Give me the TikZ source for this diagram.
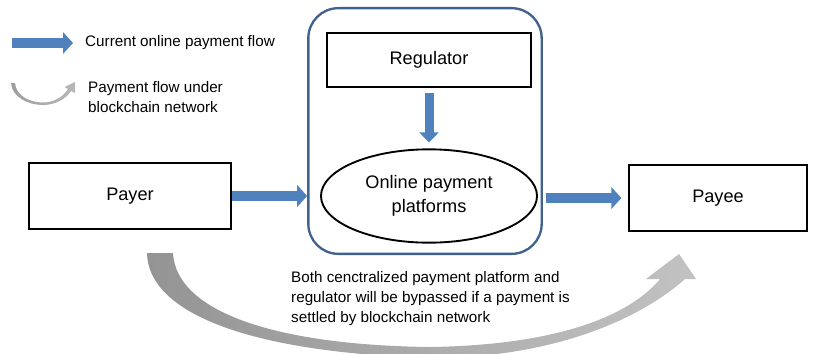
\documentclass[tikz,border=0pt]{standalone}
\usepackage{fontspec}
\setmainfont{Liberation Sans}
\usetikzlibrary{arrows.meta,shapes.geometric}
\definecolor{flowblue}{HTML}{4F81BD}
\definecolor{hubblue}{HTML}{41628F}
\tikzset{
  big/.style={font=\fontsize{15.5}{20.4}\selectfont},
  small/.style={font=\fontsize{13}{16.8}\selectfont, inner sep=0pt},
  box/.style={draw, line width=1.6pt, big},
  flow/.style={flowblue, line width=0.3cm, -{Triangle[length=0.3cm, width=0.64cm]}},
}

\begin{document}
\begin{tikzpicture}[x=0.03cm, y=-0.03cm]
\useasboundingbox (0,0) rectangle (821,353);
\clip (0,0) rectangle (821,353);

% legend
\coordinate (legstart) at (12,43);
\coordinate (legtip) at (73,43);
\draw[flow] (legstart) -- (legtip);
\node[small, anchor=west] (legflow) at (85,43) {Current online payment flow};
\shade[left color=black!38, middle color=black!8, right color=black!28]
  (11,83) .. controls (12,97) and (28,105) .. (43,105)
  .. controls (55,105) and (66,99) .. (71,91)
  -- (75,93) -- (75,82) -- (64.5,87) -- (68,89)
  .. controls (63,97) and (54,102.5) .. (43,102.5)
  .. controls (30,102.5) and (16,96) .. (15,83) -- cycle;
\node[small, anchor=west, align=left] (legchain) at (88,97) {Payment flow under\\blockchain network};

% centralized platform
\node[draw=hubblue, line width=2pt, rounded corners=0.9cm, minimum width=7cm, minimum height=7.37cm] (hub) at (425,131) {};
\node[box, minimum width=6.12cm, minimum height=1.62cm] (regulator) at (429,60) {Regulator};
\node[draw, ellipse, line width=1.6pt, big, align=center, minimum width=6.48cm, minimum height=2.8cm] (platform) at (429,196) {Online payment\\platforms};
\draw[flow, line width=0.27cm, -{Triangle[length=0.3cm, width=0.57cm]}, shorten <=0.15cm, shorten >=0.18cm] (regulator.south) -- (platform.north);

% payer and payee
\node[box, minimum width=6.06cm, minimum height=1.98cm] (payer) at (130,196) {Payer};
\node[box, minimum width=5.34cm, minimum height=1.98cm] (payee) at (718,198) {Payee};
\draw[flow] (payer.east) -- (payer.east -| hub.west);
\draw[flow, shorten <=0.08cm, shorten >=0.2cm] (hub.east |- payee.west) -- (payee.west);

% blockchain bypass
\shade[left color=black!42, right color=black!24]
  (147,253) .. controls (148,310) and (240,352) .. (430,358)
  .. controls (560,358) and (645,315) .. (685,279)
  -- (696,279) -- (679,254) -- (646,279) -- (660,279)
  .. controls (630,315) and (560,345) .. (430,347)
  .. controls (270,345) and (176,310) .. (173,253) -- cycle;
\node[small, anchor=west, align=left] (bypass) at (291,298.5) {Both cenctralized payment platform and\\regulator will be bypassed if a payment is\\settled by blockchain network};
\end{tikzpicture}
\end{document}
